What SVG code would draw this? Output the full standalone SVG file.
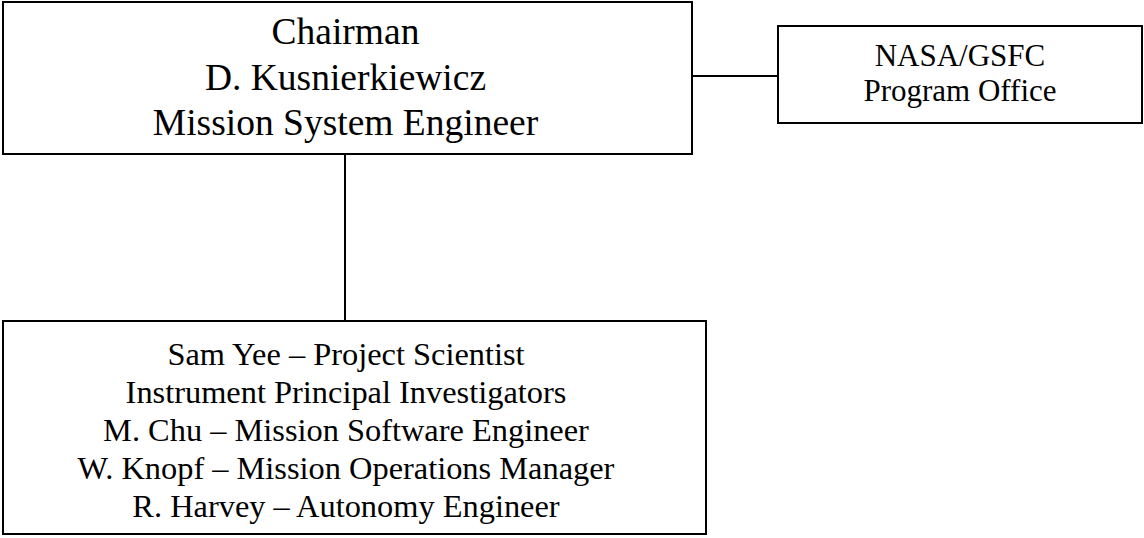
<svg xmlns="http://www.w3.org/2000/svg" width="1144" height="538" viewBox="0 0 1144 538">
<style>
.box{fill:#fff;stroke:#000;stroke-width:2}
.ln{stroke:#000;stroke-width:2;fill:none}
text{font-family:"Liberation Serif","Times New Roman",serif;fill:#000;text-anchor:middle}
.t1{font-size:37.5px}
.t2{font-size:31px}
.t3{font-size:32.4px}
</style>
<rect width="1144" height="538" fill="#fff"/>
<g id="connectors">
<line class="ln" x1="692" y1="76" x2="778" y2="76"/>
<line class="ln" x1="345" y1="154" x2="345" y2="321"/>
</g>
<g id="chairman">
<rect class="box" x="3" y="2" width="689" height="152"/>
<text class="t1" x="345.5" y="44">Chairman</text>
<text class="t1" x="345.5" y="90">D. Kusnierkiewicz</text>
<text class="t1" x="345.5" y="135">Mission System Engineer</text>
</g>
<g id="nasa">
<rect class="box" x="778" y="26" width="364" height="97"/>
<text class="t2" x="960" y="66">NASA/GSFC</text>
<text class="t2" x="960" y="101">Program Office</text>
</g>
<g id="team">
<rect class="box" x="3" y="321" width="703" height="213"/>
<text class="t3" x="346" y="365">Sam Yee – Project Scientist</text>
<text class="t3" x="346" y="403">Instrument Principal Investigators</text>
<text class="t3" x="346" y="441">M. Chu – Mission Software Engineer</text>
<text class="t3" x="346" y="479">W. Knopf – Mission Operations Manager</text>
<text class="t3" x="346" y="517">R. Harvey – Autonomy Engineer</text>
</g>
</svg>
